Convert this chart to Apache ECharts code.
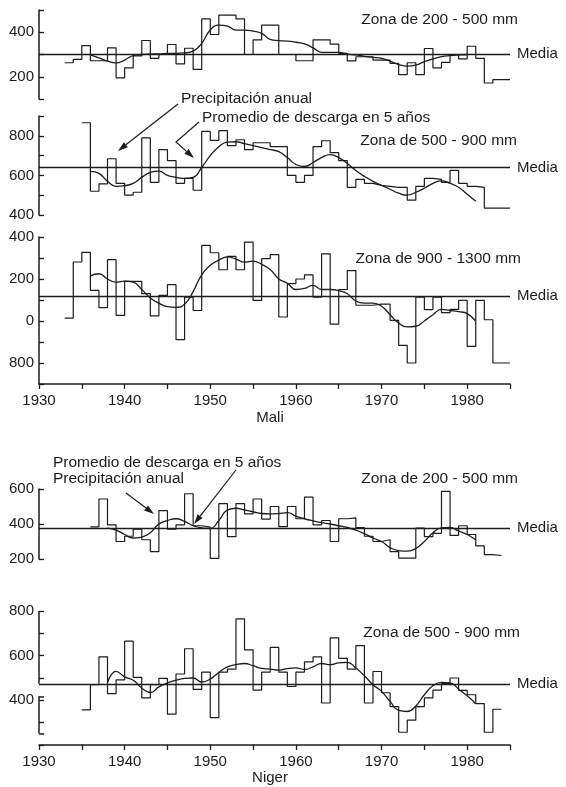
<!DOCTYPE html>
<html><head><meta charset="utf-8">
<script src="https://cdn.jsdelivr.net/npm/echarts@6/dist/echarts.min.js"></script>
<style>html,body{margin:0;padding:0;background:#fff}#c{width:566px;height:787px}</style>
</head><body><div id="c"></div>
<script>
// ---------------- DATA ----------------
// Mali, Zona de 200 - 500 mm
const maliA_start = 1933;
const maliA_annual = [263,278,340,272,272,330,195,240,294,363,283,300,345,258,328,233,460,390,477,477,460,300,366,432,432,300,300,272,272,366,366,347,305,271,290,290,275,275,260,210,263,210,327,240,265,300,280,337,283,172,187,187];
const maliA_avgStart = 1936;
const maliA_avg = [298,285,270,262,275,295,300,302,303,305,305,307,315,350,410,432,428,410,410,405,395,368,362,360,355,348,330,310,310,310,302,298,292,287,283,270,255,248,252,268,280,290,295,298,300];
const maliA_media = 302;
const maliA_yLabels = [200, 400];

// Mali, Zona de 500 - 900 mm
const maliB_start = 1935;
const maliB_annual = [866,520,557,684,560,500,515,790,565,730,675,560,585,525,822,777,826,750,780,730,765,765,745,745,600,565,600,745,775,715,675,540,580,560,550,545,540,540,475,545,585,580,565,625,560,545,540,435,435,435];
const maliB_avgStart = 1936;
const maliB_avg = [620,610,570,545,548,560,590,615,622,600,590,585,590,640,700,745,768,770,760,750,740,730,720,690,655,645,665,690,705,690,660,625,595,570,550,530,510,500,515,535,560,572,560,540,505,470];
const maliB_media = 640;
const maliB_yLabels = [400, 600, 800];

// Mali, Zona de 900 - 1300 mm
const maliC_start = 1933;
const maliC_annual = [1014,1281,1327,1146,1064,1292,1027,1189,1189,1130,1024,1122,1173,911,1114,1050,1360,1325,1244,1308,1244,1376,1098,1297,1316,1019,1178,1200,1220,1114,1320,985,1150,1240,1075,1075,1080,1080,1003,884,800,1114,1054,1114,1040,1055,1098,879,1098,1006,800,800];
const maliC_avgStart = 1936;
const maliC_avg = [1215,1225,1200,1185,1190,1185,1150,1110,1085,1068,1065,1080,1140,1220,1265,1290,1305,1295,1280,1285,1270,1245,1200,1180,1150,1155,1170,1150,1150,1145,1130,1095,1085,1085,1070,1030,990,972,975,1000,1030,1055,1050,1045,1035,1000];
const maliC_media = 1120;
const maliC_yTickValues = [800, 1000, 1200, 1400];
const maliC_yTickTexts = ['800', '0', '200', '400'];

// Niger, Zona de 200 - 500 mm
const nigerA_start = 1936;
const nigerA_annual = [384,543,395,300,330,370,310,242,476,370,395,573,390,382,204,516,328,516,458,543,428,500,385,500,430,554,395,420,300,430,435,380,330,300,310,242,205,205,376,328,347,587,335,390,340,275,225,220];
const nigerA_avgStart = 1938;
const nigerA_avg = [376,365,340,320,325,350,400,420,430,415,390,378,375,420,480,490,480,470,460,458,460,465,445,430,418,408,400,390,380,365,345,320,300,265,248,245,260,300,350,378,380,360,340,310];
const nigerA_media = 376;
const nigerA_yLabels = [200, 400, 600];

// Niger, Zona de 500 - 900 mm
const nigerB_start = 1935;
const nigerB_annual = [357,470,595,430,492,665,503,411,470,498,338,518,631,449,526,323,526,540,765,626,446,526,637,526,462,526,572,595,388,680,588,540,645,388,529,434,372,257,311,372,411,446,475,500,445,425,385,257,360];
const nigerB_avgStart = 1938;
const nigerB_avg = [480,530,505,490,455,435,460,478,490,498,500,482,495,525,550,560,565,555,543,540,535,542,545,538,550,565,560,568,570,545,510,470,440,395,355,350,375,425,465,480,478,450,420,385];
const nigerB_media = 474;
const nigerB_yLabels = [400, 600, 800];
const nigerB_lowerBracket = [418, 252];

// x axis
const yearMin = 1930, yearMax = 1985;
const decadeLabels = [1930, 1940, 1950, 1960, 1970, 1980];

// ---------------- STYLE ----------------
const FONT = '"Liberation Sans", Arial, Helvetica, sans-serif';
const INK = '#1c1c1c';
const GL = 39, GW = 471;
const TICKFS = 15, NOTEFS = 15.5;

function stepPoints(start, vals){ const p=[]; vals.forEach((v,i)=>{p.push([start+i,v]);p.push([start+i+1,v]);}); return p; }
function avgPoints(start, vals){ return vals.map((v,i)=>[start+i,v]); }

const panels = [
  {top:10,  height:89,  min:100, max:500,  iv:100, annual:maliA_annual, start:maliA_start, avg:maliA_avg, avgStart:maliA_avgStart, media:maliA_media,
   fmt:v=>maliA_yLabels.includes(v)?String(v):''},
  {top:116, height:99,  min:400, max:900,  iv:100, annual:maliB_annual, start:maliB_start, avg:maliB_avg, avgStart:maliB_avgStart, media:maliB_media,
   fmt:v=>maliB_yLabels.includes(v)?String(v):''},
  {top:237, height:147, min:700, max:1400, iv:100, annual:maliC_annual, start:maliC_start, avg:maliC_avg, avgStart:maliC_avgStart, media:maliC_media,
   fmt:v=>{const k=maliC_yTickValues.indexOf(v);return k>=0?maliC_yTickTexts[k]:'';}, xShow:true},
  {top:489, height:70,  min:200, max:600,  iv:200, annual:nigerA_annual, start:nigerA_start, avg:nigerA_avg, avgStart:nigerA_avgStart, media:nigerA_media,
   fmt:v=>nigerA_yLabels.includes(v)?String(v):''},
  {top:611, height:134, min:200, max:800,  iv:100, annual:nigerB_annual, start:nigerB_start, avg:nigerB_avg, avgStart:nigerB_avgStart, media:nigerB_media,
   fmt:v=>nigerB_yLabels.includes(v)?String(v):'', xShow:true, broken:true}
];

const grid=[], xAxis=[], yAxis=[], series=[];
panels.forEach((p,i)=>{
  grid.push({left:GL, width:GW, top:p.top, height:p.height});
  xAxis.push({type:'value', gridIndex:i, min:yearMin, max:yearMax, interval:5, show:!!p.xShow,
    axisLine:{show:true, lineStyle:{color:INK, width:1.5}},
    axisTick:{show:true, length:5, lineStyle:{color:INK, width:1.3}},
    axisLabel:{show:true, color:INK, fontFamily:FONT, fontSize:TICKFS, margin:9, formatter:v=>decadeLabels.includes(v)?String(v):''},
    splitLine:{show:false}});
  yAxis.push({type:'value', gridIndex:i, min:p.min, max:p.max, interval:p.iv,
    axisLine:{show:!p.broken, lineStyle:{color:INK, width:1.5}},
    axisTick:{show:true, inside:true, length:5, lineStyle:{color:INK, width:1.3}},
    axisLabel:{show:true, color:INK, fontFamily:FONT, fontSize:TICKFS, margin:5, formatter:p.fmt, showMinLabel:true, showMaxLabel:true},
    splitLine:{show:false}});
  const hid = {show:false};
  const ml = [{yAxis:p.media}];
  if (p.broken){
    const [b0,b1] = nigerB_lowerBracket;
    const bracket = {lineStyle:{width:1.5}, label:hid};
    ml.push([{coord:[yearMin,p.max],...bracket},{coord:[yearMin,p.media],label:hid}]);
    ml.push([{coord:[yearMin,b0],...bracket},{coord:[yearMin,b1],label:hid}]);
    ml.push([{coord:[yearMin,b1],...bracket},{coord:[yearMin+0.6,b1],label:hid}]);
    ml.push([{coord:[yearMin,b0],...bracket},{coord:[yearMin+0.6,b0],label:hid}]);
  }
  series.push({type:'line', xAxisIndex:i, yAxisIndex:i, data:stepPoints(p.start,p.annual), symbol:'none',
    lineStyle:{color:INK, width:1.2}, silent:true, z:3,
    markLine:{symbol:['none','none'], silent:true, animation:false,
      lineStyle:{color:INK, width:1.3, type:'solid'},
      label:{show:true, position:'end', formatter:'Media', color:INK, fontFamily:FONT, fontSize:15, distance:7},
      data:ml}});
  series.push({type:'line', xAxisIndex:i, yAxisIndex:i, data:avgPoints(p.avgStart,p.avg), symbol:'none', smooth:0.5,
    lineStyle:{color:INK, width:1.3}, silent:true, z:4});
});

function txt(x,y,s,align,size){ return {type:'text', x:x, y:y, style:{text:s, fill:INK, font:(size||NOTEFS)+'px '+FONT, textAlign:align||'left', textVerticalAlign:'middle'}}; }
function arrow(pts){
  const n=pts.length, [x1,y1]=pts[n-2], [x2,y2]=pts[n-1];
  const a=Math.atan2(y2-y1,x2-x1), L=10, W=3.2;
  const bx=x2-L*Math.cos(a), by=y2-L*Math.sin(a), px=-Math.sin(a)*W, py=Math.cos(a)*W;
  return [{type:'polyline', shape:{points:pts.slice(0,-1).concat([[bx,by]])}, style:{stroke:INK, lineWidth:1.2, fill:null}},
          {type:'polygon', shape:{points:[[x2,y2],[bx+px,by+py],[bx-px,by-py]]}, style:{fill:INK}}];
}

const graphic = [
  txt(518,20,'Zona de 200 - 500 mm','right'),
  txt(181,99,'Precipitación anual'),
  txt(202,118,'Promedio de descarga en 5 años'),
  txt(517,141,'Zona de 500 - 900 mm','right'),
  txt(521,259,'Zona de 900 - 1300 mm','right'),
  txt(270,418,'Mali','center',15),
  txt(53,463,'Promedio de descarga en 5 años'),
  txt(53,479,'Precipitación anual'),
  txt(518,479,'Zona de 200 - 500 mm','right'),
  txt(520,633,'Zona de 500 - 900 mm','right'),
  txt(270,778,'Niger','center',15),
  ...arrow([[178,104],[118,151]]),
  ...arrow([[199,122],[176,142],[194,158]]),
  ...arrow([[126,493],[154,514]]),
  ...arrow([[236,470],[194,524]])
];

const chart = echarts.init(document.getElementById('c'), null, {renderer:'canvas'});
chart.setOption({animation:false, backgroundColor:'#fff', grid, xAxis, yAxis, series, graphic});
</script>
</body></html>
